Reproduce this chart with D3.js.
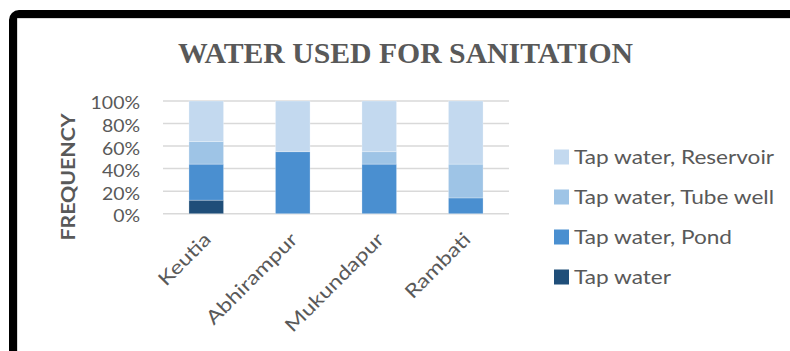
<!DOCTYPE html>
<html>
<head>
<meta charset="utf-8">
<script src="https://cdn.jsdelivr.net/npm/d3@7"></script>
<style>
  html, body { margin: 0; padding: 0; background: #fff; }
  svg { display: block; }
</style>
</head>
<body>
<svg id="chart" width="790" height="351"></svg>
<script>
// Share of households by water source used for sanitation (percent)
const villages   = ["Keutia", "Abhirampur", "Mukundapur", "Rambati"];
const sources    = ["Tap water", "Tap water, Pond", "Tap water, Tube well", "Tap water, Reservoir"];
const tapWater   = [12, 0, 0, 0];
const tapPond    = [32, 55, 44, 14];
const tapTube    = [20, 0, 11, 30];
const tapReserv  = [36, 45, 45, 56];
const yTicks     = [0, 20, 40, 60, 80, 100];
const colors     = ["#1f4e79", "#4a8fd0", "#9ec4e6", "#c3d9ef"];

const rows = villages.map((v, i) => ({
  village: v,
  "Tap water": tapWater[i],
  "Tap water, Pond": tapPond[i],
  "Tap water, Tube well": tapTube[i],
  "Tap water, Reservoir": tapReserv[i]
}));

const svg = d3.select("#chart");
const textColor = "#595959";
const font = "Lato, 'Open Sans', sans-serif";

// widen sans text a little so it sits like a Calibri run
function widen(sel, factor) {
  sel.each(function () {
    const w = this.getComputedTextLength();
    d3.select(this)
      .attr("textLength", w * factor)
      .attr("lengthAdjust", "spacingAndGlyphs");
  });
}

// outer frame
svg.append("rect")
  .attr("x", 13).attr("y", 14)
  .attr("width", 820).attr("height", 380)
  .attr("rx", 6)
  .attr("fill", "#fff")
  .attr("stroke", "#000")
  .attr("stroke-width", 8);
svg.append("line")
  .attr("x1", 17.5).attr("x2", 790).attr("y1", 18.5).attr("y2", 18.5)
  .attr("stroke", "#d9d9d9").attr("stroke-width", 1);
svg.append("line")
  .attr("x1", 17.5).attr("x2", 17.5).attr("y1", 18.5).attr("y2", 351)
  .attr("stroke", "#d9d9d9").attr("stroke-width", 1);

// title
svg.append("text")
  .attr("x", 405.5).attr("y", 63)
  .attr("text-anchor", "middle")
  .attr("font-family", "'Liberation Serif', 'Times New Roman', serif")
  .attr("font-weight", "bold")
  .attr("font-size", 30)
  .attr("fill", textColor)
  .attr("textLength", 455)
  .attr("lengthAdjust", "spacingAndGlyphs")
  .text("WATER USED FOR SANITATION");

const plot = { left: 163, right: 509, top: 101, bottom: 213.7 };

const x = d3.scaleBand()
  .domain(villages)
  .range([plot.left, plot.right])
  .paddingInner(0.6)
  .paddingOuter(0.3);

const y = d3.scaleLinear()
  .domain([0, 100])
  .range([plot.bottom, plot.top]);

// gridlines
svg.append("g")
  .selectAll("line")
  .data(yTicks)
  .join("line")
  .attr("x1", plot.left).attr("x2", plot.right)
  .attr("y1", d => y(d)).attr("y2", d => y(d))
  .attr("stroke", "#d9d9d9")
  .attr("stroke-width", 1.5);

// stacked bars
const stack = d3.stack().keys(sources);
const series = stack(rows);

svg.append("g")
  .selectAll("g")
  .data(series)
  .join("g")
  .attr("fill", (d, i) => colors[i])
  .selectAll("rect")
  .data(d => d)
  .join("rect")
  .attr("x", d => x(d.data.village))
  .attr("width", x.bandwidth())
  .attr("y", d => y(d[1]))
  .attr("height", d => y(d[0]) - y(d[1]))
  .attr("stroke", "#fff")
  .attr("stroke-opacity", 0.35)
  .attr("stroke-width", 0.75);

// y axis labels
const yAxis = d3.axisLeft(y)
  .tickValues(yTicks)
  .tickFormat(d => d + "%")
  .tickSize(0)
  .tickPadding(0);
const yg = svg.append("g")
  .attr("transform", `translate(140,1.5)`)
  .call(yAxis);
yg.select(".domain").remove();
yg.selectAll("text")
  .attr("font-family", font)
  .attr("font-size", 18)
  .attr("fill", textColor)
  .attr("dy", "0.36em")
  .call(widen, 1.08);

// x axis labels
const xAxis = d3.axisBottom(x).tickSize(0).tickPadding(0);
const xg = svg.append("g")
  .attr("transform", `translate(0,${plot.bottom})`)
  .call(xAxis);
xg.select(".domain").remove();
xg.selectAll("text")
  .attr("font-family", font)
  .attr("font-size", 19)
  .attr("fill", textColor)
  .attr("text-anchor", "end")
  .attr("dy", 0)
  .attr("transform", "translate(6,27) rotate(-45)")
  .call(widen, 1.22);

// y axis title
const yTitle = svg.append("text")
  .attr("transform", "translate(75,177) rotate(-90)")
  .attr("text-anchor", "middle")
  .attr("font-family", font)
  .attr("font-weight", "bold")
  .attr("font-size", 19)
  .attr("fill", textColor)
  .text("FREQUENCY");
widen(yTitle, 1.12);

// legend, top to bottom in reverse stack order
const legendItems = sources.map((s, i) => ({ name: s, color: colors[i] })).reverse();
const lg = svg.append("g")
  .selectAll("g")
  .data(legendItems)
  .join("g")
  .attr("transform", (d, i) => `translate(554,${157 + i * 40})`);
lg.append("rect")
  .attr("x", 0).attr("y", -7.5)
  .attr("width", 15).attr("height", 15)
  .attr("fill", d => d.color);
lg.append("text")
  .attr("x", 20).attr("y", 0)
  .attr("dy", "0.36em")
  .attr("font-family", font)
  .attr("font-size", 19)
  .attr("fill", textColor)
  .text(d => d.name)
  .call(widen, 1.19);
</script>
</body>
</html>
